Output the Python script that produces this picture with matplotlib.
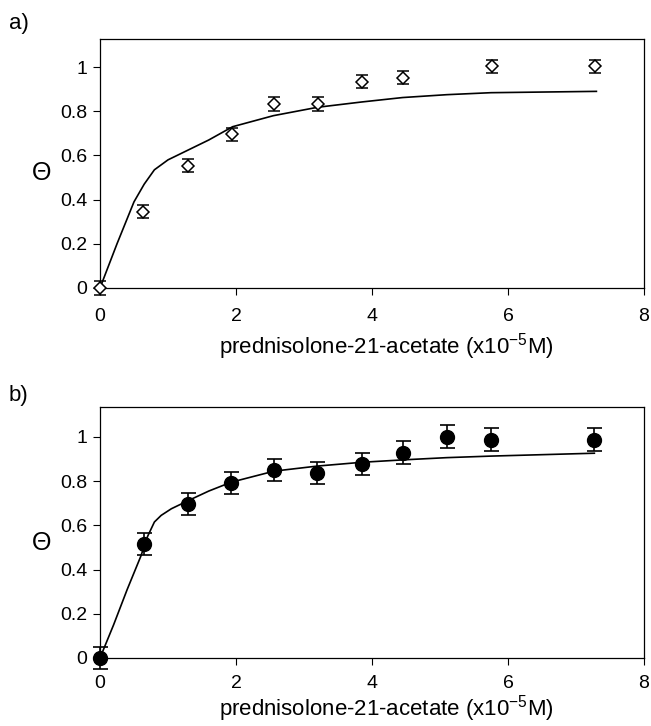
import matplotlib
matplotlib.use("Agg")
import matplotlib.pyplot as plt

plt.rcParams['font.family'] = ['Liberation Sans', 'DejaVu Sans']
plt.rcParams['mathtext.fontset'] = 'custom'
plt.rcParams['mathtext.rm'] = 'Liberation Sans'

# Panel a) data (open diamonds)
xa = [0.0, 0.63, 1.30, 1.94, 2.56, 3.21, 3.86, 4.46, 5.76, 7.28]
ya = [0.0, 0.346, 0.553, 0.696, 0.833, 0.833, 0.934, 0.952, 1.004, 1.004]
ea = [0.03, 0.03, 0.03, 0.03, 0.03, 0.03, 0.03, 0.03, 0.03, 0.03]
# Panel a) fitted curve
xa_fit = [0.0, 0.25, 0.5, 0.65, 0.8, 1.0, 1.3, 1.6, 1.95, 2.55, 3.2, 3.85, 4.45, 5.1, 5.75, 7.3]
ya_fit = [0.0, 0.2, 0.39, 0.47, 0.535, 0.58, 0.625, 0.67, 0.73, 0.78, 0.818, 0.842, 0.862, 0.875, 0.884, 0.89]

# Panel b) data (filled circles)
xb = [0.0, 0.64, 1.30, 1.93, 2.56, 3.19, 3.85, 4.46, 5.11, 5.75, 7.27]
yb = [0.0, 0.514, 0.695, 0.793, 0.850, 0.836, 0.877, 0.929, 1.0, 0.988, 0.988]
eb = [0.052, 0.05, 0.05, 0.05, 0.05, 0.05, 0.05, 0.05, 0.052, 0.052, 0.052]
# Panel b) fitted curve
xb_fit = [0.0, 0.2, 0.4, 0.6, 0.7, 0.8, 0.9, 1.05, 1.3, 1.6, 1.93, 2.56, 3.2, 3.85, 4.46, 5.1, 5.75, 7.27]
yb_fit = [0.0, 0.15, 0.31, 0.46, 0.55, 0.615, 0.645, 0.675, 0.712, 0.755, 0.795, 0.845, 0.868, 0.885, 0.896, 0.906, 0.913, 0.926]

xticks = [0, 2, 4, 6, 8]
xticklabels = ["0", "2", "4", "6", "8"]
yticks = [0, 0.2, 0.4, 0.6, 0.8, 1.0]
yticklabels = ["0", "0.2", "0.4", "0.6", "0.8", "1"]
xlabel = r"prednisolone-21-acetate (x10$^{\mathregular{-5}}$M)"
panel_labels = ["a)", "b)"]

fig = plt.figure(figsize=(6.51, 7.26), dpi=100)
ax_a = fig.add_axes([100/651, 1-288/726, 544/651, 249/726])
ax_b = fig.add_axes([100/651, 1-658/726, 544/651, 251/726])

def style(ax, ymax, label_top_px, xpad):
    ax.set_xlim(0, 8)
    ax.set_ylim(0, ymax)
    ax.set_xticks(xticks)
    ax.set_xticklabels(xticklabels)
    ax.set_yticks(yticks)
    ax.set_yticklabels(yticklabels)
    ax.tick_params(direction='out', length=5, width=0.8, labelsize=14)
    ax.tick_params(axis='x', pad=xpad)
    ax.tick_params(axis='y', pad=4)
    for s in ax.spines.values():
        s.set_linewidth(0.9)
    ax.set_xlabel(xlabel, fontsize=16)
    h = ax.get_position().height * 726
    ax.xaxis.set_label_coords(0.527, -label_top_px / h)
    ax.set_ylabel("Θ", fontsize=18, rotation=0, va='center', ha='center')
    ax.yaxis.set_label_coords(-58 / 544, 0.46)

# Panel a
ax_a.plot(xa_fit, ya_fit, color='black', lw=1.2, zorder=2)
ax_a.errorbar(xa, ya, yerr=ea, fmt='D', ms=6.5, mfc='white', mec='black', mew=1.1,
              ecolor='black', elinewidth=1.2, capsize=4.5, capthick=1.2, zorder=3, clip_on=False)
style(ax_a, 1.127, 43, 9.5)

# Panel b
ax_b.plot(xb_fit, yb_fit, color='black', lw=1.2, zorder=2)
ax_b.errorbar(xb, yb, yerr=eb, fmt='o', ms=10, mfc='black', mec='black',
              ecolor='black', elinewidth=1.2, capsize=5.4, capthick=1.2, zorder=3, clip_on=False)
style(ax_b, 1.135, 35, 7.5)

fig.text(9/651, 1-23/726, panel_labels[0], fontsize=16, va='center', ha='left')
fig.text(9/651, 1-396/726, panel_labels[1], fontsize=16, va='center', ha='left')

fig.savefig("out.png", dpi=100)
